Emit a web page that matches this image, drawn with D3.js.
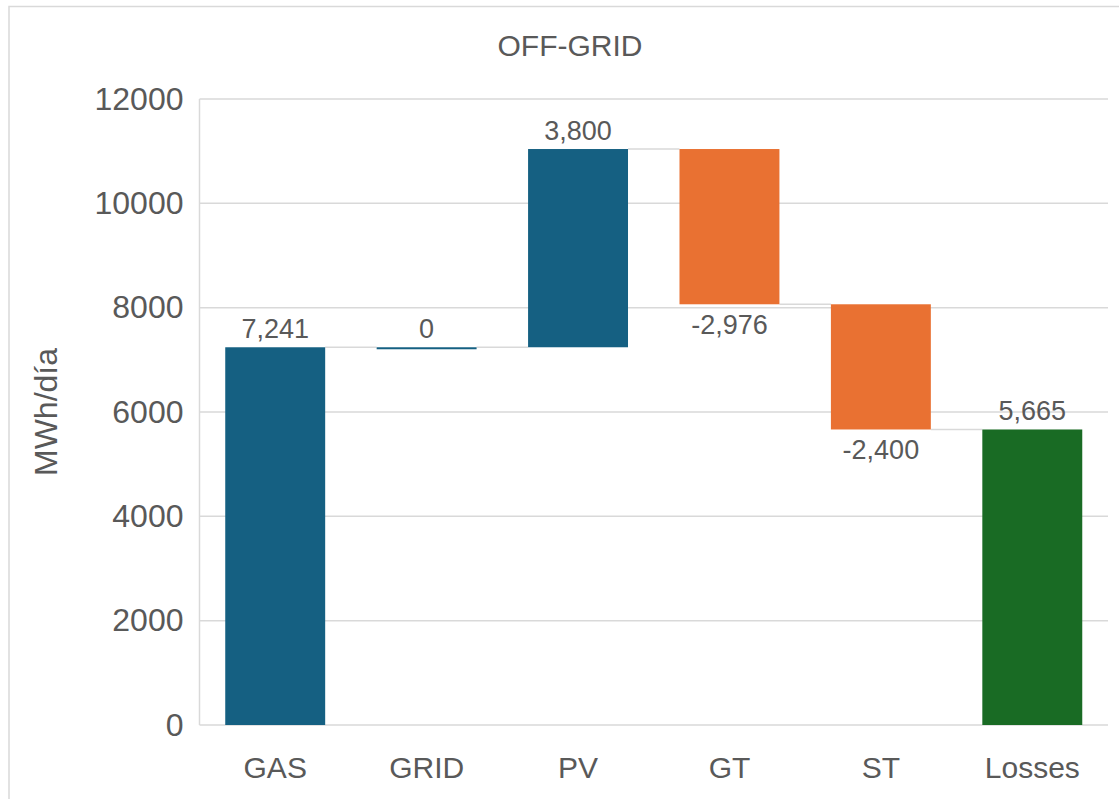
<!DOCTYPE html>
<html>
<head>
<meta charset="utf-8">
<script src="https://cdn.jsdelivr.net/npm/d3@7"></script>
<style>
  body { margin: 0; background: #fff; }
  text { font-family: "Liberation Sans", Arial, sans-serif; fill: #595959; }
</style>
</head>
<body>
<svg id="chart" width="1119" height="799"></svg>
<script>
const categories = ["GAS", "GRID", "PV", "GT", "ST", "Losses"];
const values = [7241, 0, 3800, -2976, -2400, 5665];
const isTotal = [false, false, false, false, false, true];
const yTicks = [0, 2000, 4000, 6000, 8000, 10000, 12000];

const BLUE = "#156082";
const ORANGE = "#E97132";
const GREEN = "#196B24";
const GRID_COLOR = "#d9d9d9";

const svg = d3.select("#chart");
const margin = { left: 199.5, right: 1108, top: 99, bottom: 725 };

// waterfall steps
let running = 0;
const steps = categories.map((c, i) => {
  let start, end;
  if (isTotal[i]) {
    start = 0;
    end = values[i];
  } else {
    start = running;
    end = running + values[i];
  }
  running = end;
  return { cat: c, value: values[i], start, end, total: isTotal[i] };
});

const x = d3.scaleBand()
  .domain(categories)
  .range([margin.left, margin.right])
  .paddingInner(0.34)
  .paddingOuter(0.17);

const y = d3.scaleLinear().domain([0, 12000]).range([margin.bottom, margin.top]);

// chart border
svg.append("rect")
  .attr("x", 9).attr("y", 6.5)
  .attr("width", 1130).attr("height", 820)
  .attr("fill", "none")
  .attr("stroke", GRID_COLOR)
  .attr("stroke-width", 1.5);

// gridlines
svg.append("g")
  .selectAll("line")
  .data(yTicks)
  .enter()
  .append("line")
  .attr("x1", margin.left).attr("x2", margin.right)
  .attr("y1", (d) => y(d)).attr("y2", (d) => y(d))
  .attr("stroke", GRID_COLOR)
  .attr("stroke-width", 1.5);

// y axis line
svg.append("line")
  .attr("x1", margin.left).attr("x2", margin.left)
  .attr("y1", margin.top).attr("y2", margin.bottom)
  .attr("stroke", GRID_COLOR)
  .attr("stroke-width", 1.5);

// y tick labels
const yAxis = svg.append("g")
  .attr("transform", `translate(${margin.left},0)`)
  .call(d3.axisLeft(y).tickValues(yTicks).tickSize(0).tickPadding(16).tickFormat(d3.format("d")));
yAxis.select(".domain").remove();
yAxis.selectAll("text")
  .style("font-size", "32px")
  .attr("fill", "#595959")
  .style("font-family", "'Liberation Sans', Arial, sans-serif");

// x labels
const xAxis = svg.append("g")
  .attr("transform", `translate(0,${margin.bottom})`)
  .call(d3.axisBottom(x).tickSize(0).tickPadding(32));
xAxis.select(".domain").remove();
xAxis.selectAll("text")
  .style("font-size", "30px")
  .attr("fill", "#595959")
  .style("font-family", "'Liberation Sans', Arial, sans-serif");

// connectors
const links = steps.slice(0, -1).map((s, i) => ({ from: s, to: steps[i + 1] }));
svg.append("g")
  .selectAll("line")
  .data(links)
  .enter()
  .append("line")
  .attr("x1", (d) => x(d.from.cat) + x.bandwidth())
  .attr("x2", (d) => x(d.to.cat))
  .attr("y1", (d) => y(d.from.end))
  .attr("y2", (d) => y(d.from.end))
  .attr("stroke", GRID_COLOR)
  .attr("stroke-width", 1.5);

// bars
const colorOf = (d) => (d.total ? GREEN : d.value < 0 ? ORANGE : BLUE);
svg.append("g")
  .selectAll("rect")
  .data(steps)
  .enter()
  .append("rect")
  .attr("x", (d) => x(d.cat))
  .attr("width", x.bandwidth())
  .attr("y", (d) => y(Math.max(d.start, d.end)))
  .attr("height", (d) => Math.max(2, Math.abs(y(d.start) - y(d.end))))
  .attr("fill", colorOf);

// data labels
const fmt = d3.format(",");
svg.append("g")
  .selectAll("text")
  .data(steps)
  .enter()
  .append("text")
  .attr("x", (d) => x(d.cat) + x.bandwidth() / 2)
  .attr("y", (d) => (d.value < 0 ? y(d.end) + 30 : y(Math.max(d.start, d.end)) - 9))
  .attr("text-anchor", "middle")
  .style("font-size", "27px")
  .text((d) => (d.value < 0 ? "-" + fmt(-d.value) : fmt(d.value)));

// title
svg.append("text")
  .attr("x", 570).attr("y", 56)
  .attr("text-anchor", "middle")
  .style("font-size", "30px")
  .text("OFF-GRID");

// y axis title
svg.append("text")
  .attr("transform", `translate(57,${(margin.top + margin.bottom) / 2}) rotate(-90)`)
  .attr("text-anchor", "middle")
  .style("font-size", "32px")
  .text("MWh/día");
</script>
</body>
</html>
